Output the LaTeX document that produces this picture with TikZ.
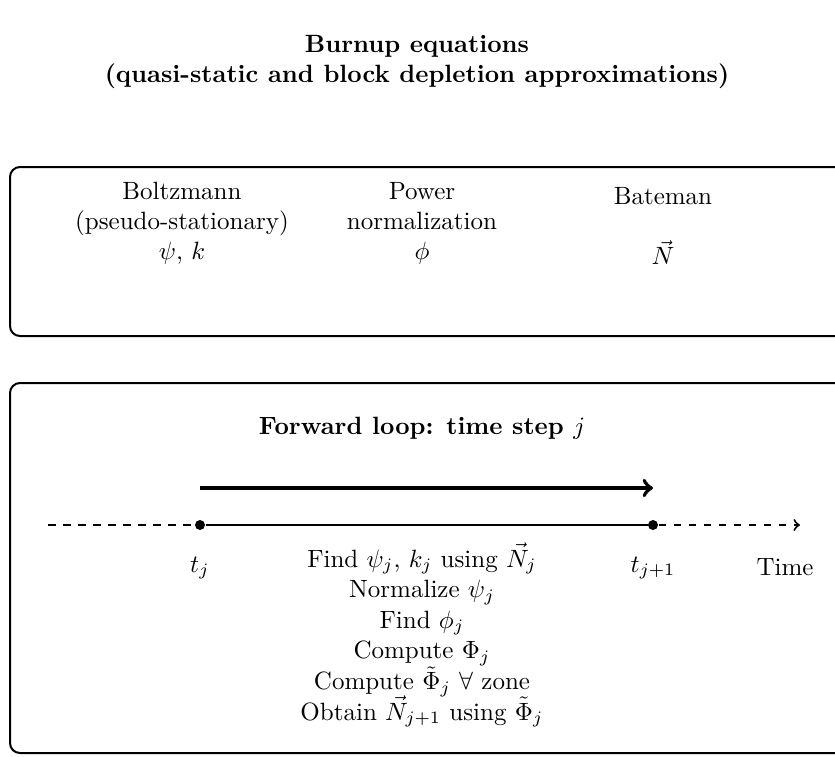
\documentclass[tikz,border=0pt]{standalone}
\begin{document}
\begin{tikzpicture}[x=0.4pt,y=-0.4pt,
  frame/.style={draw, thick, rounded corners=4pt},
  lbl/.style={align=center, inner sep=0pt},
  tdot/.style={circle, fill, inner sep=0pt, minimum size=4pt}]
\useasboundingbox (0,0) rectangle (835,756);
\clip (0,0) rectangle (835,756);
\node[lbl, font=\bfseries] (title) at (417,62) {Burnup equations\\(quasi-static and block depletion approximations)};
% top box
\draw[frame] (10,167) rectangle (850,336);
\node[lbl] (boltz) at (182,223) {Boltzmann\\(pseudo-stationary)\\$\psi$, $k$};
\node[lbl] (power) at (422,223) {Power\\normalization\\$\phi$};
\node[lbl] (bate) at (663,226) {Bateman\\[12pt]$\vec{N}$};
% bottom box
\draw[frame] (10,383) rectangle (850,753);
\node[lbl, font=\bfseries] (fwd) at (422,428) {Forward loop: time step $j$};
\coordinate (a1) at (200,488);
\coordinate (a2) at (653,488);
\draw[ultra thick, ->] (a1) -- (a2);
\coordinate (start) at (48,525);
\node[tdot] (tj) at (200,525) {};
\node[tdot] (tj1) at (653,525) {};
\coordinate (end) at (800,525);
\draw[thick, dashed] (start) -- (tj);
\draw[thick] (tj) -- (tj1);
\draw[thick, dashed, ->] (tj1) -- (end);
\node[lbl] (ltj) at (200,568) {$t_j$};
\node[lbl] (ltj1) at (653,568) {$t_{j+1}$};
\node[lbl] (ltime) at (785,567) {Time};
\node[lbl, font={\baselineskip=12.24pt\lineskiplimit=-20pt\lineskip=0pt}] (steps) at (422,635) {Find $\psi_j$, $k_j$ using $\vec{N}_j$\\Normalize $\psi_j$\\Find $\phi_j$\\Compute $\Phi_j$\\Compute $\tilde{\Phi}_j$ $\forall$ zone\\Obtain $\vec{N}_{j+1}$ using $\tilde{\Phi}_j$};
\end{tikzpicture}
\end{document}
